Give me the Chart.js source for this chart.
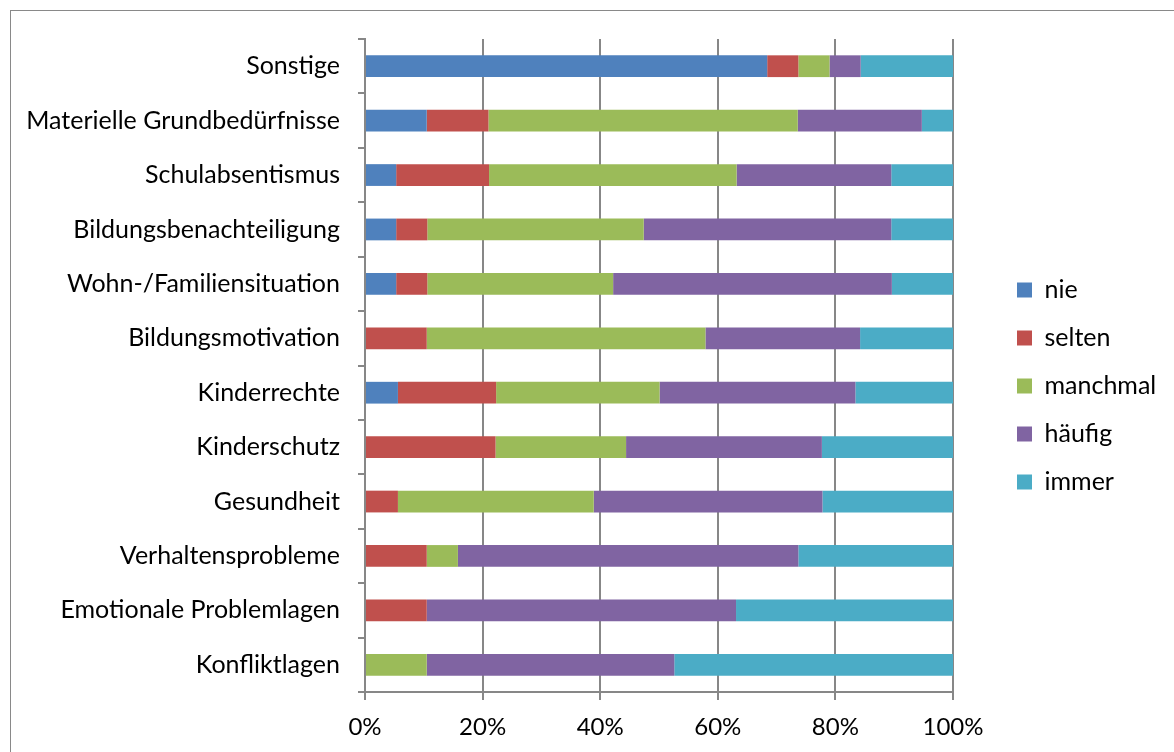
<!DOCTYPE html>
<html>
<head>
<meta charset="utf-8">
<script src="https://cdn.jsdelivr.net/npm/chart.js@4"></script>
<style>
  body { margin: 0; background: #fff; overflow: hidden; }
  #frame { position: absolute; left: 10px; top: 10px; width: 1200px; height: 800px; border: 1px solid #898989; }
  #myChart { position: absolute; left: 0; top: 0; }
</style>
</head>
<body>
<div id="frame"></div>
<canvas id="myChart" width="1174" height="752"></canvas>
<script>
// categories top -> bottom
const categories = [
    'Sonstige',
    'Materielle Grundbedürfnisse',
    'Schulabsentismus',
    'Bildungsbenachteiligung',
    'Wohn-/Familiensituation',
    'Bildungsmotivation',
    'Kinderrechte',
    'Kinderschutz',
    'Gesundheit',
    'Verhaltensprobleme',
    'Emotionale Problemlagen',
    'Konfliktlagen'
];

// shares in percent
const nie      = [68.4, 10.5,  5.3,  5.3,  5.3,  0.0,  5.6,  0.0,  0.0,  0.0,  0.0,  0.0];
const selten   = [ 5.3, 10.5, 15.8,  5.3,  5.3, 10.5, 16.7, 22.2,  5.6, 10.5, 10.5,  0.0];
const manchmal = [ 5.3, 52.6, 42.1, 36.8, 31.6, 47.4, 27.8, 22.2, 33.3,  5.3,  0.0, 10.5];
const haeufig  = [ 5.3, 21.1, 26.3, 42.1, 47.4, 26.3, 33.3, 33.3, 38.9, 57.9, 52.6, 42.1];
const immer    = [15.7, 5.3, 10.5, 10.5, 10.5, 15.8, 16.6, 22.3, 22.2, 26.3, 36.9, 47.4];

const xTicks = [0, 20, 40, 60, 80, 100];

const gridGray = '#878787';
const fontFam = 'Lato, "Open Sans", sans-serif';

// legend needs a fixed width so the plot area lines up
const fixLegend = {
    id: 'fixLegend',
    beforeLayout(chart) {
        const lg = chart.legend;
        if (lg && !lg._patched) {
            const fit = lg.fit;
            lg.fit = function () { fit.call(this); this.width = 180; };
            lg._patched = true;
        }
    }
};

function ds(label, data, color) {
    return {
        label: label,
        data: data,
        backgroundColor: color,
        borderWidth: 0,
        categoryPercentage: 1.0,
        barPercentage: 0.4
    };
}

let ctx = document.getElementById('myChart').getContext('2d');
let chart = new Chart(ctx, {
    type: 'bar',
    data: {
        labels: categories,
        datasets: [
            ds('nie', nie, '#4F81BD'),
            ds('selten', selten, '#C0504D'),
            ds('manchmal', manchmal, '#9BBB59'),
            ds('häufig', haeufig, '#8064A2'),
            ds('immer', immer, '#4BACC6')
        ]
    },
    options: {
        indexAxis: 'y',
        responsive: false,
        animation: false,
        layout: { padding: { left: 0, right: 0, top: 39, bottom: 0 } },
        scales: {
            x: {
                stacked: true,
                min: 0,
                max: 100,
                afterBuildTicks: s => { s.ticks = xTicks.map(v => ({ value: v })); },
                afterFit: s => { s.height = 60; },
                ticks: {
                    callback: v => v + '%',
                    color: '#000',
                    padding: 13,
                    font: { family: fontFam, size: 24 }
                },
                grid: { color: gridGray, lineWidth: 2, tickLength: 8 },
                border: { color: gridGray, width: 2 }
            },
            y: {
                stacked: true,
                afterFit: s => { s.width = 365; },
                ticks: {
                    color: '#000',
                    padding: 18,
                    font: { family: fontFam, size: 25 }
                },
                grid: { drawOnChartArea: false, color: gridGray, lineWidth: 2, tickLength: 7 },
                border: { color: gridGray, width: 2 }
            },
            y2: {
                type: 'category',
                position: 'right',
                labels: categories,
                afterFit: s => { s.width = 41; },
                ticks: { display: false },
                grid: { display: false },
                border: { display: false }
            }
        },
        plugins: {
            legend: {
                position: 'right',
                align: 'center',
                fullSize: false,
                title: { display: true, text: '', padding: 13.3 },
                labels: {
                    boxWidth: 15,
                    boxHeight: 15,
                    padding: 23,
                    color: '#000',
                    font: { family: fontFam, size: 25 }
                }
            },
            tooltip: { enabled: false }
        }
    },
    plugins: [fixLegend]
});
</script>
</body>
</html>
